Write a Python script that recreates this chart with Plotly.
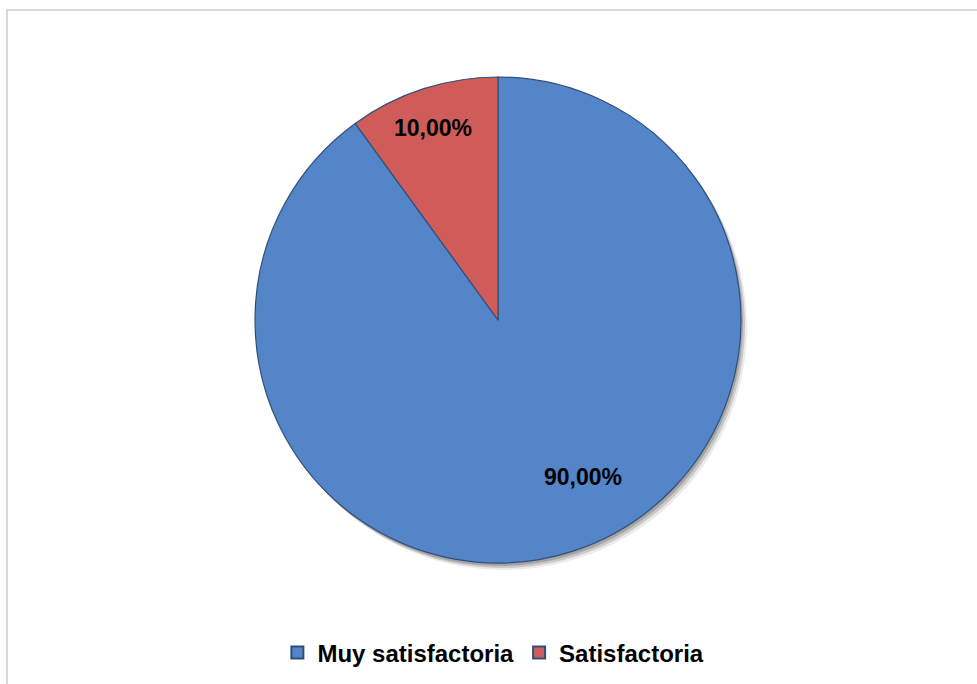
import plotly.graph_objects as go
import math

# Chart data
categories = ["Muy satisfactoria", "Satisfactoria"]
values = [90.0, 10.0]
colors = ["#5585c9", "#cf5c58"]

W, H = 977, 684
cx, cy, R = 498, 320, 243  # pie centre and radius in pixels

dom_x = [(cx - R) / W, (cx + R) / W]
dom_y = [1 - (cy + R) / H, 1 - (cy - R) / H]

fig = go.Figure()

# soft drop shadow behind the pie
for k, alpha in [(6, 0.08), (4, 0.14), (2, 0.18)]:
    fig.add_trace(go.Pie(
        labels=categories, values=values, sort=False, direction="clockwise",
        marker=dict(colors=[f"rgba(0,0,0,{alpha})"] * 2, line=dict(width=0)),
        textinfo="none", hoverinfo="skip", showlegend=False,
        domain=dict(x=[dom_x[0] + k / W, dom_x[1] + k / W],
                    y=[dom_y[0] - (k + 1) / H, dom_y[1] - (k + 1) / H]),
    ))

fig.add_trace(go.Pie(
    labels=categories, values=values, sort=False, direction="clockwise",
    rotation=0,
    marker=dict(colors=colors, line=dict(color="#2f4f7a", width=1.2)),
    textinfo="none", showlegend=True,
    domain=dict(x=dom_x, y=dom_y),
))

# value labels: placed along a chosen angle/radius inside each slice
label_angle_offset = [-10.4, -0.7]   # degrees from slice mid-angle
label_radius = [0.735, 0.834]
total = sum(values)
start = 0.0
annotations = []
for i, v in enumerate(values):
    mid = start + v / total * 360 / 2 + label_angle_offset[i]
    start += v / total * 360
    a = math.radians(mid)
    px = cx + label_radius[i] * R * math.sin(a)
    py = cy - label_radius[i] * R * math.cos(a)
    annotations.append(dict(
        x=px / W, y=1 - py / H, xref="paper", yref="paper",
        text="<b>" + f"{v:.2f}".replace(".", ",") + "%</b>",
        showarrow=False, font=dict(family="Arial, Liberation Sans", size=23, color="#000000"),
        xanchor="center", yanchor="middle",
    ))

fig.update_layout(
    width=W, height=H,
    margin=dict(l=0, r=0, t=0, b=0),
    paper_bgcolor="white", plot_bgcolor="white",
    font=dict(family="Arial, Liberation Sans", color="#000000"),
    annotations=annotations,
    legend=dict(
        orientation="h", x=0.505, xanchor="center", y=1 - 653 / H, yanchor="middle",
        font=dict(family="Arial, Liberation Sans", size=24, color="#000000", weight="bold"),
        itemsizing="constant", itemwidth=30, traceorder="normal",
    ),
    shapes=[
        dict(type="line", xref="paper", yref="paper", x0=6 / W, x1=1.01, y0=1 - 10 / H, y1=1 - 10 / H,
             line=dict(color="#d9d9d9", width=2)),
        dict(type="line", xref="paper", yref="paper", x0=7 / W, x1=7 / W, y0=1 - 9 / H, y1=-0.01,
             line=dict(color="#d9d9d9", width=2)),
    ],
)

fig.write_html("out.html")
